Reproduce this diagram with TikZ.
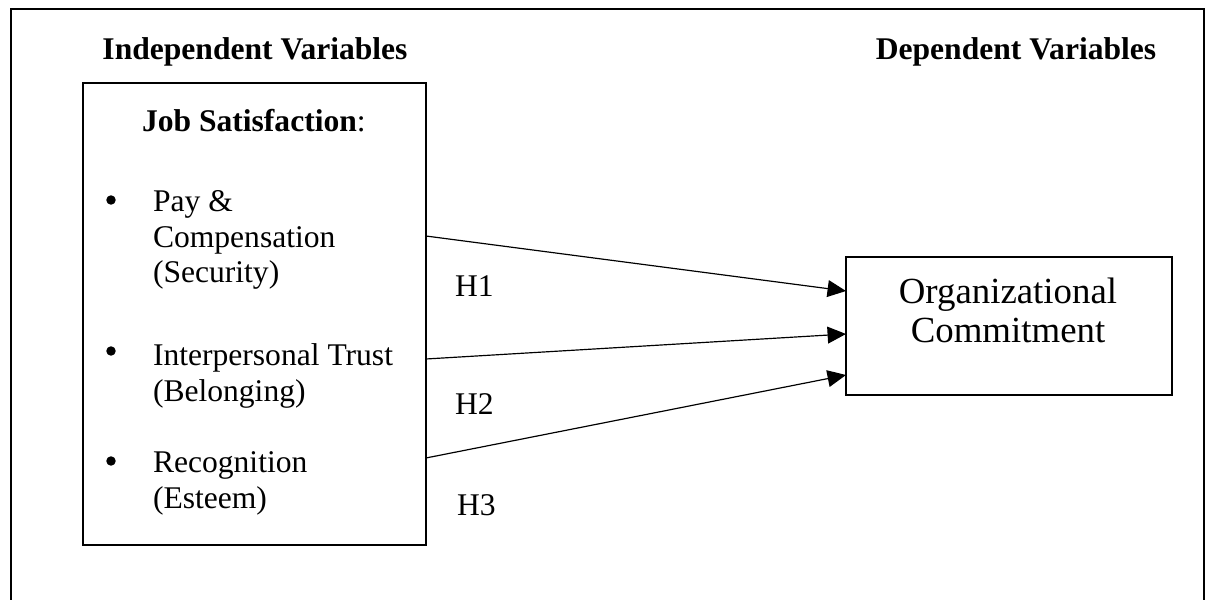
\documentclass[tikz,border=0pt]{standalone}
\usepackage{fontspec}
\setmainfont{Liberation Serif}
\usetikzlibrary{arrows.meta}

\begin{document}
\begin{tikzpicture}[x=0.38pt,y=-0.38pt,
  every node/.style={inner sep=0pt, outer sep=0pt, font=\fontsize{12}{13.5}\selectfont},
  box/.style={draw, line width=0.6pt, anchor=north west},
  bull/.style={circle, fill=black, minimum size=3.6pt},
  item/.style={anchor=base west, align=left},
  arr/.style={-{Triangle[length=7pt,width=6.4pt]}, line width=0.45pt}]

\useasboundingbox (0,0) rectangle (1210,600);
\draw[line width=0.75pt] (11,600) -- (11,9) -- (1204,9) -- (1204,600);

\node[anchor=base] (indep) at (255,60) {\textbf{Independent Variables}};
\node[anchor=base] (dep) at (1016,60) {\textbf{Dependent Variables}};

\node[box, minimum width=130.3pt, minimum height=175.6pt] (jobs) at (83,83) {};
\node[anchor=base west] (jstitle) at (142,132) {\textbf{Job Satisfaction}:};

% multi-line items sit on their last line
\node[bull] (b1) at (111,200) {};
\node[bull] (b2) at (111,351) {};
\node[bull] (b3) at (111,461) {};
\node[item] (pay) at (153,283) {Pay \&\\Compensation\\(Security)};
\node[item] (trust) at (153,401) {Interpersonal Trust\\(Belonging)};
\node[item] (recog) at (153,508) {Recognition\\(Esteem)};

\node[box, minimum width=123.9pt, minimum height=52.4pt] (org) at (846,257) {};
\node[anchor=base, align=center, font=\fontsize{14}{15.2}\selectfont] (orgtxt) at (1008,343) {Organizational\\Commitment};

\node[anchor=base west] (h1) at (455,296) {H1};
\node[anchor=base west] (h2) at (455,414) {H2};
\node[anchor=base west] (h3) at (457,515) {H3};

\coordinate (s1) at (jobs.east |- 0,236);
\coordinate (s2) at (jobs.east |- 0,359);
\coordinate (s3) at (jobs.east |- 0,458);
\coordinate (t1) at (org.west |- 0,291);
\coordinate (t2) at (org.west |- 0,334);
\coordinate (t3) at (org.west |- 0,375);
\draw[arr] (s1) -- (t1);
\draw[arr] (s2) -- (t2);
\draw[arr] (s3) -- (t3);
\end{tikzpicture}
\end{document}
